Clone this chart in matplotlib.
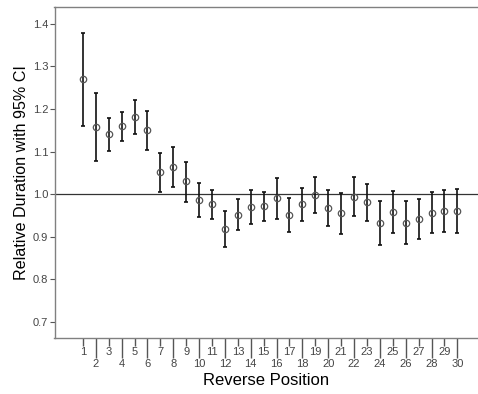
import matplotlib
matplotlib.use("Agg")
import matplotlib.pyplot as plt
import numpy as np

plt.rcParams['font.family'] = ['Liberation Sans', 'DejaVu Sans']

# Mean relative duration and 95% CI bounds per reverse position
positions = list(range(1, 31))
means = [1.269, 1.157, 1.140, 1.159, 1.180, 1.150, 1.051, 1.064, 1.030, 0.987,
         0.977, 0.919, 0.951, 0.969, 0.971, 0.990, 0.951, 0.976, 0.998, 0.968,
         0.955, 0.994, 0.982, 0.933, 0.959, 0.933, 0.941, 0.956, 0.961, 0.961]
upper = [1.379, 1.237, 1.178, 1.192, 1.220, 1.195, 1.096, 1.110, 1.076, 1.027,
         1.010, 0.960, 0.988, 1.009, 1.005, 1.038, 0.990, 1.015, 1.041, 1.010,
         1.003, 1.040, 1.024, 0.984, 1.008, 0.984, 0.988, 1.005, 1.010, 1.011]
lower = [1.160, 1.077, 1.102, 1.125, 1.140, 1.104, 1.005, 1.017, 0.982, 0.946,
         0.941, 0.876, 0.915, 0.929, 0.937, 0.941, 0.911, 0.937, 0.956, 0.926,
         0.907, 0.948, 0.938, 0.880, 0.908, 0.882, 0.894, 0.908, 0.912, 0.909]
y_ticks = [0.7, 0.8, 0.9, 1.0, 1.1, 1.2, 1.3, 1.4]

x = np.array(positions)
m = np.array(means)
err = [m - np.array(lower), np.array(upper) - m]

fig = plt.figure(figsize=(4.78, 3.94), dpi=100)
ax = fig.add_axes([54.5 / 478, 56 / 394, 1 - 54.5 / 478, 331 / 394])

ax.axhline(1.0, color='#333333', lw=0.9, zorder=1)
ax.errorbar(x, m, yerr=err, fmt='none', ecolor='#111111', elinewidth=1.2,
            capsize=1.6, capthick=1.2, zorder=2)
ax.plot(x, m, 'o', mfc='none', mec='#555555', ms=4.6, mew=0.9, zorder=3)

ax.set_xlim(-1.2, 31.6)
ax.set_ylim(0.6625, 1.439)

# odd positions on the first row, even positions lower with longer ticks
ax.set_xticks([p for p in positions if p % 2 == 1])
ax.set_xticks([p for p in positions if p % 2 == 0], minor=True)
ax.set_xticklabels([str(p) for p in positions if p % 2 == 1])
ax.set_xticklabels([str(p) for p in positions if p % 2 == 0], minor=True)
ax.tick_params(axis='x', which='major', length=5.8, width=1.0, pad=1.0,
               color='#555555', labelcolor='#444444', labelsize=8)
ax.tick_params(axis='x', which='minor', length=14.2, width=1.0, pad=1.0,
               color='#555555', labelcolor='#444444', labelsize=8)

ax.set_yticks(y_ticks)
ax.set_yticklabels([f'{t:.1f}' for t in y_ticks])
ax.tick_params(axis='y', length=3.5, width=0.8, pad=1.0,
               color='#555555', labelcolor='#444444', labelsize=8)

for side in ['left', 'bottom', 'top']:
    ax.spines[side].set_color('#808080')
    ax.spines[side].set_linewidth(1.0)
ax.spines['right'].set_visible(False)

ax.set_xlabel('Reverse Position', fontsize=12, labelpad=3)
ax.set_ylabel('Relative Duration with 95% CI', fontsize=11.6, labelpad=3)

fig.savefig('out.png', dpi=100)
